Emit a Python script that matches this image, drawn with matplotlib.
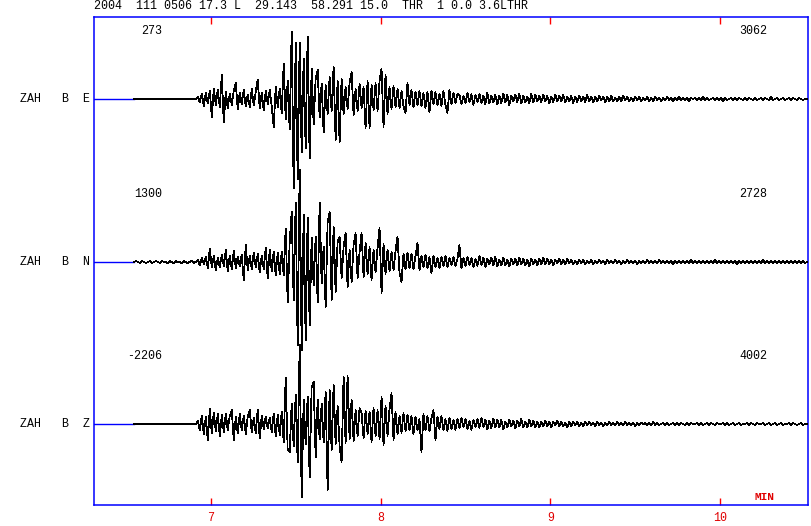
import numpy as np
import matplotlib.pyplot as plt

plt.rcParams["font.family"] = ["Liberation Mono", "DejaVu Sans Mono"]

header = "2004  111 0506 17.3 L  29.143  58.291 15.0  THR  1 0.0 3.6LTHR"
channels = ["ZAH   B  E", "ZAH   B  N", "ZAH   B  Z"]
left_counts = ["273", "1300", "-2206"]
right_counts = ["3062", "2728", "4002"]
minute_ticks = [7, 8, 9, 10]

# time (minutes): window, first sample, sample step
t_left, t_right = 6.312, 10.518
t_first = 6.547
dt = 1 / 85.0

# trace deflections, in screen pixels (up = +)
east_pre = [0] * 32
east = [
    2, -3, 5, -7, 6, -4, 8, -18, 10, -6,
    9, -8, 24, -23, 7, -9, 5, -6, 8, 16,
    -10, 6, -5, 9, -7, 4, -8, 10, -6, 7,
    19, -9, 6, -11, 8, -5, 9, -7, -28, 12,
    -8, 10, -14, 35, -20, 18, -30, 67, -89, 56,
    -80, 56, -53, 40, -49, 62, -59, 30, -25, 20,
    29, -18, 15, -33, 14, -15, 22, -12, 32, -41,
    18, -43, 20, -15, 12, -10, 16, 27, -16, 10,
    -12, 15, -9, 12, -29, 18, -29, 14, -11, 16,
    -12, 18, 30, -28, 24, -15, 12, -10, 13, -8,
    10, -9, 8, -7, -14, 16, -6, 9, -8, 7,
    -6, 8, -7, 6, -9, 7, -13, 8, -5, 7,
    -6, 5, -7, 8, -6, -14, 9, -5, 6, -4,
    5,
]
east_tail = [
    4, -5, 3, -4, 6, -3, 5, -6, 4, -3, 5, -4, 3, -5, 6, -4, 3, -3, 4, -5,
    3, -4, 5, -3, 4, -6, 3, -2, 4, -3, 5, -4, 3, -3, 2, -4, 5, -3, 4, -2,
    3, -3, 4, -2, 3, -4, 2, -3, 4, -2, 3, -2, 4, -3, 2, -2, 3, -4, 2, -3,
    3, -2, 2, -3, 4, -2, 2, -3, 2, -2, 3, -1, 2, -3, 2, -2, 3, -2, 1, -2,
    2, -2, 3, -1, 2, -2, 1, -2, 2, -1, 2, -2, 1, -1, 2, -2, 1, -2, 2, -1,
    1, -2, 1, -1, 2, -1, 1, -2, 1, -1, 2, -1, 1, -1, 1, -2, 1, 0, 1, -1,
    1, -1, 2, -1, 1, -1, 0, 1, -1, 1, -1, 1, -2, 1, -1, 0, 1, -1, 1, -1,
    1, 0, -1, 1, -1, 1, 0, -1, 1, -1, 0, 1, -1, 1, 0, -1, 2, -1, 0, 1,
    -1, 0, 1, -1, 0, 1, -1, 1, 0, -1, 1, 0, -1, 0, 0,
]

north_pre = [
    0, 1, 0, -1, 1, 0, -1, 0, 1, -1, 0, 1, 0, -1, 1, 0,
    0, -1, 1, 0, -1, 1, 0, 0, -1, 1, 0, -1, 0, 1, -1, 0,
]
north = [
    2, -3, 4, -2, 5, -6, 13, -5, 6, -8,
    4, -5, 7, -4, 12, -9, 6, -7, 11, -6,
    5, -4, 7, -18, 17, -8, 6, -7, 9, -5,
    8, -10, 6, -7, 14, -16, 12, -9, 10, -13,
    9, -12, 10, -13, 33, -40, 20, 50, -38, 59,
    -83, 92, -88, 47, -78, 44, -63, 24, -23, 25,
    -40, 59, -21, 15, -45, 39, 50, -38, 35, -30,
    20, 25, -16, 15, 29, -25, 12, -20, 17, 29,
    -16, 10, 29, -15, 19, -12, 15, -18, 12, -10,
    14, 34, -31, 18, -12, 12, -9, 10, -8, 11,
    25, -11, -20, 8, -7, 9, -6, 8, -7, 6,
    19, -8, 6, -5, 7, -6, 5, -11, 6, -5,
    4, -6, 5, -4, 6, -5, 4, -3, 5, -4,
    3, 17, -6, 4,
]
north_tail = [
    -4, 5, -3, 4, -5, 3, -4, 6, -3, 4, -5, 3, -2, 4, -3, 5, -4, 2, -3, 4,
    -3, 2, -4, 3, -2, 3, -3, 4, -2, 3, -3, 2, -4, 3, -2, 2, -3, 3, -2, 4,
    -2, 3, -2, 2, -3, 2, -1, 3, -2, 2, -2, 3, -1, 2, -2, 1, -2, 2, -1, 2,
    -2, 1, -1, 2, -2, 1, -1, 2, -1, 1, -2, 2, -1, 1, -1, 2, -1, 1, -2, 1,
    -1, 2, -1, 1, -1, 1, -2, 1, -1, 1, -1, 2, -1, 1, -1, 1, -1, 2, -1, 1,
    -1, 1, -1, 1, -2, 1, -1, 1, -1, 1, -1, 1, -1, 2, -1, 1, -1, 1, -1, 1,
    -1, 1, -1, 1, -1, 2, -1, 1, -1, 1, -1, 1, -1, 1, -1, 1, -2, 1, -1, 1,
    -1, 1, -1, 1, -1, 1, -1, 1, -1, 2, -1, 1, -1, 1, -1, 1, -1, 1, -1, 1,
    -1, 1, -1, 1, -1, 1, -1, 1, -1, 1, -1, 0,
]

vert_pre = [0] * 32
vert = [
    3, -6, 8, -10, 7, -16, 15, -9, 11, -7,
    10, -12, 9, -8, 10, -6, 8, 14, -16, 7,
    -9, 10, -6, 8, -10, 7, 14, -8, 6, -9,
    14, -14, 8, -5, 7, -4, 6, -8, 10, -12,
    9, -11, 12, -18, 46, -26, -28, 20, -22, 29,
    -38, 79, -73, 24, -20, 27, -53, 37, 42, -33,
    24, -15, 20, -18, 32, -66, 34, -26, 39, -20,
    18, -22, -38, 47, -19, 48, -15, 24, -17, 14,
    -12, 16, 11, -14, 13, -10, 12, -18, 16, -12,
    14, -15, 27, -21, 18, -12, 15, 31, -16, 12,
    -10, 8, -9, 11, -7, 9, -6, 8, -10, 7,
    -6, 5, -28, 10, -6, 8, -7, 6, 14, -16,
    7, -5, 8, -6, 5, -7, 6, -5, 4, -6,
    5,
]
vert_tail = [
    -4, 6, -3, 5, -5, 3, -6, 4, -3, 5, -4, 6, -3, 4, -5, 3, -4, 5, -3, 4,
    -3, 4, -5, 2, -3, 4, -2, 3, -4, 3, -2, 5, -3, 2, -3, 4, -2, 3, -3, 2,
    -3, 2, -2, 3, -2, 2, -3, 2, -1, 3, -2, 2, -2, 1, -3, 2, -2, 2, -1, 2,
    -2, 1, -2, 2, -1, 2, -1, 1, -2, 2, -1, 1, -2, 1, -1, 2, -1, 1, -1, 2,
    -1, 1, -1, 2, -1, 1, -1, 1, -2, 1, -1, 1, 0, 1, -1, 1, -1, 2, -1, 1,
    -1, 0, 1, -1, 1, -1, 0, 1, -1, 1, -1, 1, 0, -1, 1, -1, 1, 0, 0, 1,
    -1, 1, -1, 0, 1, -1, 1, 0, -1, 1, 0, 0, 1, -1, 1, -1, 0, 1, -1, 0,
    1, -1, 0, 0, 1, -1, 1, 0, -1, 1, 0, 0, 1, -1, 0, 1, -1, 0, 1, -1,
    0, 1, -1, 0, 0, 1, -1, 1, 0, -1, 0, 1, -1, 0, 0,
]

traces = [
    east_pre + east + east_tail,
    north_pre + north + north_tail,
    vert_pre + vert + vert_tail,
]
baselines = [99, 262, 424]  # screen rows of the zero lines

W, H = 811, 526


def px(x, y):
    return x / W, 1 - y / H


fig = plt.figure(figsize=(W / 100, H / 100), dpi=100)
ax = fig.add_axes([94 / W, (H - 505) / H, (808 - 94) / W, (505 - 17) / H])
ax.set_xlim(t_left, t_right)
ax.set_ylim(505, 17)

for spine in ax.spines.values():
    spine.set_color("#0000ff")
    spine.set_linewidth(1.1)

ax.set_yticks([])
ax.set_xticks(minute_ticks)
ax.set_xticklabels([str(m) for m in minute_ticks])
ax.tick_params(axis="x", direction="in", length=5, width=1, color="#ff0000",
               labelcolor="#e00000", labelsize=8.4, top=True, pad=5)

for amp, base in zip(traces, baselines):
    amp = np.array(amp, dtype=float)
    t = t_first + dt * np.arange(len(amp))
    ax.plot([t_left, t_first], [base, base], color="#0000ff", lw=1.0, zorder=2)
    ax.plot(t, base - amp, color="black", lw=0.55, zorder=3, antialiased=False)

fig.text(*px(94, 6), header, ha="left", va="center", fontsize=8.4)
for name, lc, rc, base in zip(channels, left_counts, right_counts, baselines):
    fig.text(*px(20, base), name, ha="left", va="center", fontsize=8.4)
    fig.text(*px(162, base - 68), lc, ha="right", va="center", fontsize=8.4)
    fig.text(*px(767, base - 68), rc, ha="right", va="center", fontsize=8.4)
fig.text(*px(774, 497), "MIN", ha="right", va="center", fontsize=8,
         color="#e00000", fontweight="bold")

fig.savefig("out.png", dpi=100)
